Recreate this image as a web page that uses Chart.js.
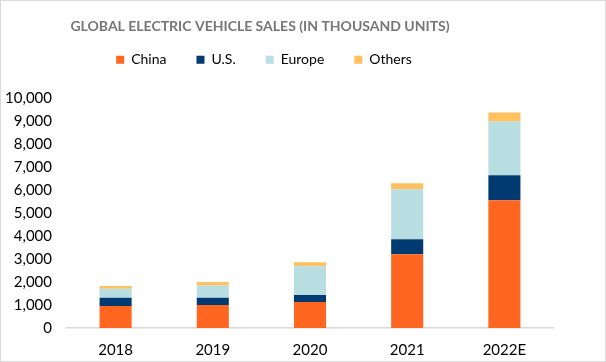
<!DOCTYPE html>
<html>
<head>
<meta charset="utf-8">
<script src="https://cdn.jsdelivr.net/npm/chart.js@4"></script>
<style>
html,body{margin:0;padding:0;background:#fff;}
#wrap{position:relative;width:606px;height:362px;box-sizing:border-box;border:1px solid #d9d9d9;}
canvas{display:block;}
</style>
</head>
<body>
<div id="wrap"><canvas id="c"></canvas></div>
<script>
const categories = ["2018", "2019", "2020", "2021", "2022E"];
const china  = [960, 1000, 1130, 3210, 5550];
const us     = [360, 320, 300, 650, 1090];
const europe = [385, 530, 1260, 2170, 2340];
const others = [120, 150, 170, 260, 390];
const yTicks = [0,1000,2000,3000,4000,5000,6000,7000,8000,9000,10000];

const font = "Lato, 'Liberation Sans', sans-serif";
Chart.defaults.font.family = font;
Chart.defaults.color = "#000";

// Re-center title and legend horizontally like the reference
const centerPlugin = {
  id: 'centerBoxes',
  afterLayout(chart) {
    if (chart.titleBlock) { chart.titleBlock.left = 0; chart.titleBlock.right = 518; }
    if (chart.legend) { chart.legend.left = 0; chart.legend.right = 526; }
  }
};

new Chart(document.getElementById('c'), {
  type: 'bar',
  data: {
    labels: categories,
    datasets: [
      {label: 'China', data: china, backgroundColor: '#FF661F'},
      {label: 'U.S.', data: us, backgroundColor: '#003A70'},
      {label: 'Europe', data: europe, backgroundColor: '#B8DEE1'},
      {label: 'Others', data: others, backgroundColor: '#FFC05F'}
    ]
  },
  plugins: [centerPlugin],
  options: {
    responsive: true,
    maintainAspectRatio: false,
    animation: false,
    datasets: {bar: {barPercentage: 0.33, categoryPercentage: 1.0}},
    layout: {padding: {left: 0, right: 52, top: 0, bottom: 2}},
    plugins: {
      title: {
        display: true,
        text: 'GLOBAL ELECTRIC VEHICLE SALES (IN THOUSAND UNITS)',
        color: '#767676',
        font: {size: 14, weight: 'bold', family: font},
        padding: {top: 17, bottom: -12}
      },
      subtitle: {
        display: true,
        text: ' ',
        weight: 500,
        font: {size: 1},
        padding: {top: 10, bottom: 10}
      },
      legend: {
        display: true,
        position: 'top',
        labels: {
          boxWidth: 8, boxHeight: 8, padding: 30,
          color: '#000',
          font: {size: 14, family: font}
        }
      },
      tooltip: {enabled: false}
    },
    scales: {
      x: {
        stacked: true,
        grid: {display: false, drawTicks: false},
        border: {display: true, color: '#d9d9d9', width: 1.5},
        afterFit: (axis) => { axis.height = 31; },
        ticks: {font: {size: 15, family: font}, color: '#000', padding: 13}
      },
      y: {
        stacked: true,
        min: 0, max: 10000,
        afterBuildTicks: (axis) => { axis.ticks = yTicks.map(v => ({value: v})); },
        afterFit: (axis) => { axis.width = 66; },
        grid: {display: false, drawTicks: false},
        border: {display: false},
        ticks: {
          autoSkip: false,
          font: {size: 15, family: font}, color: '#000', padding: 15,
          callback: (v) => v.toLocaleString('en-US')
        }
      }
    }
  }
});
</script>
</body>
</html>
